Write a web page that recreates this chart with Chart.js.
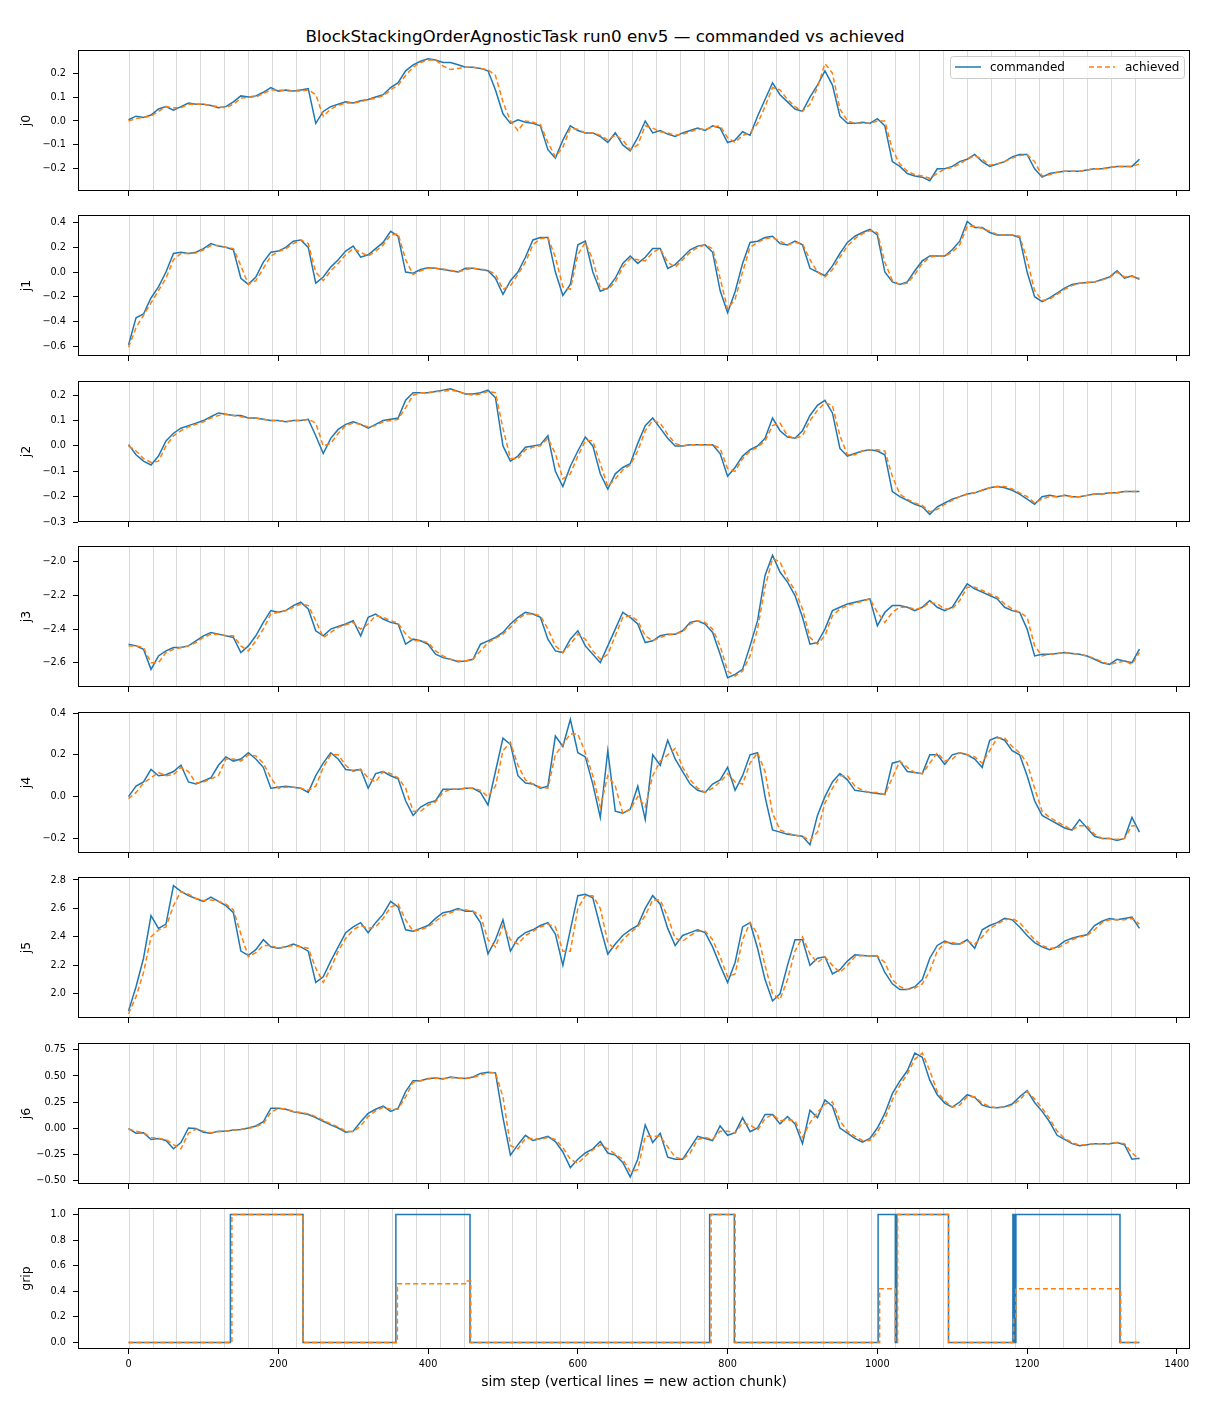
<!DOCTYPE html>
<html>
<head>
<meta charset="utf-8">
<script src="https://cdn.jsdelivr.net/npm/chart.js@4.4.1/dist/chart.umd.min.js"></script>
<style>
  body { margin: 0; background: #fff; width: 1210px; height: 1408px; position: relative; font-family: "DejaVu Sans", sans-serif; }
  #title { position: absolute; top: 26px; left: 0; width: 1210px; text-align: center; font-size: 16.7px; color: #000; }
  .panel { position: absolute; left: 0; width: 1210px; }
</style>
</head>
<body>
<div id="title">BlockStackingOrderAgnosticTask run0 env5 — commanded vs achieved</div>
<div id="charts"></div>
<script>
// sim steps sampled every 10 steps (0..1350)
const steps = Array.from({ length: 136 }, (_, i) => i * 10);
// start of each new action chunk
const chunkStarts = [0, 32, 64, 96, 128, 160, 192, 224, 256, 288, 320, 352, 384, 416, 448, 480, 512, 544, 576, 608,
  640, 672, 704, 736, 768, 800, 832, 864, 896, 928, 960, 992, 1024, 1056, 1088, 1120, 1152, 1184, 1216, 1248,
  1280, 1312, 1344];
const xTicks = [0, 200, 400, 600, 800, 1000, 1200, 1400];

const j0Cmd = [
  0.005, 0.02, 0.015, 0.025, 0.05, 0.06, 0.045, 0.06, 0.075, 0.07,
  0.07, 0.065, 0.055, 0.06, 0.08, 0.105, 0.10, 0.105, 0.12, 0.14,
  0.125, 0.13, 0.125, 0.13, 0.135, -0.01, 0.04, 0.06, 0.07, 0.08,
  0.075, 0.085, 0.09, 0.10, 0.11, 0.14, 0.16, 0.21, 0.235, 0.25,
  0.26, 0.255, 0.245, 0.245, 0.235, 0.225, 0.225, 0.22, 0.21, 0.13,
  0.03, -0.01, 0.005, -0.005, -0.01, -0.02, -0.12, -0.155, -0.08, -0.02,
  -0.04, -0.05, -0.05, -0.065, -0.09, -0.05, -0.1, -0.125, -0.07, 0.0,
  -0.05, -0.04, -0.055, -0.065, -0.05, -0.04, -0.03, -0.04, -0.02, -0.03,
  -0.09, -0.08, -0.045, -0.06, 0.02, 0.09, 0.16, 0.11, 0.08, 0.05,
  0.04, 0.1, 0.15, 0.21, 0.15, 0.02, -0.01, -0.01, -0.005, -0.01,
  0.01, -0.02, -0.17, -0.19, -0.22, -0.23, -0.235, -0.25, -0.2, -0.2,
  -0.19, -0.17, -0.16, -0.14, -0.17, -0.19, -0.18, -0.17, -0.15, -0.14,
  -0.14, -0.2, -0.235, -0.22, -0.215, -0.21, -0.21, -0.21, -0.205, -0.2,
  -0.2, -0.195, -0.19, -0.19, -0.19, -0.16
];
const j0Ach = [
  0.0, 0.01, 0.015, 0.02, 0.04, 0.06, 0.055, 0.055, 0.07, 0.07,
  0.07, 0.065, 0.06, 0.055, 0.07, 0.095, 0.10, 0.10, 0.115, 0.13,
  0.13, 0.125, 0.125, 0.125, 0.13, 0.11, 0.02, 0.05, 0.065, 0.075,
  0.075, 0.08, 0.09, 0.095, 0.105, 0.13, 0.15, 0.19, 0.225, 0.245,
  0.255, 0.255, 0.23, 0.215, 0.22, 0.225, 0.225, 0.22, 0.215, 0.19,
  0.08, 0.0, -0.04, 0.0, -0.005, -0.015, -0.09, -0.15, -0.11, -0.03,
  -0.035, -0.05, -0.05, -0.06, -0.08, -0.06, -0.08, -0.12, -0.1, -0.02,
  -0.03, -0.045, -0.05, -0.06, -0.055, -0.045, -0.035, -0.035, -0.025, -0.02,
  -0.07, -0.09, -0.06, -0.05, -0.01, 0.06, 0.14, 0.13, 0.09, 0.06,
  0.04, 0.07, 0.14, 0.24, 0.2, 0.05, 0.0, -0.01, -0.01, -0.01,
  0.0, 0.0, -0.12, -0.18, -0.21, -0.225, -0.23, -0.24, -0.22, -0.2,
  -0.195, -0.18, -0.16, -0.145, -0.16, -0.185, -0.18, -0.17, -0.155, -0.145,
  -0.14, -0.17, -0.23, -0.225, -0.215, -0.21, -0.21, -0.21, -0.205, -0.2,
  -0.2, -0.195, -0.19, -0.19, -0.19, -0.18
];

const j1Cmd = [
  -0.59, -0.37, -0.34, -0.21, -0.12, 0.0, 0.15, 0.16, 0.15, 0.16,
  0.19, 0.23, 0.21, 0.2, 0.18, -0.05, -0.1, -0.04, 0.08, 0.16,
  0.17, 0.2, 0.25, 0.26, 0.2, -0.09, -0.04, 0.04, 0.1, 0.17,
  0.21, 0.12, 0.14, 0.19, 0.24, 0.33, 0.29, 0.0, -0.01, 0.02,
  0.035, 0.03, 0.02, 0.01, 0.0, 0.03, 0.03, 0.02, 0.01, -0.05,
  -0.18, -0.07, 0.0, 0.12, 0.26, 0.28, 0.28, 0.0, -0.19, -0.1,
  0.22, 0.25, 0.0, -0.155, -0.13, -0.05, 0.07, 0.13, 0.07, 0.12,
  0.19, 0.19, 0.03, 0.06, 0.12, 0.18, 0.21, 0.22, 0.16, -0.15,
  -0.33, -0.16, 0.07, 0.24, 0.25, 0.28, 0.29, 0.23, 0.22, 0.25,
  0.22, 0.03, 0.0, -0.03, 0.05, 0.15, 0.24, 0.29, 0.32, 0.345,
  0.3, 0.0, -0.08, -0.1, -0.08, 0.01, 0.09, 0.13, 0.13, 0.13,
  0.18, 0.25, 0.41, 0.36, 0.36, 0.32, 0.3, 0.3, 0.3, 0.28,
  0.0, -0.2, -0.24, -0.21, -0.17, -0.13, -0.1, -0.09, -0.085, -0.08,
  -0.06, -0.04, 0.01, -0.05, -0.03, -0.06
];
const j1Ach = [
  -0.61, -0.45, -0.35, -0.25, -0.15, -0.05, 0.1, 0.15, 0.15, 0.155,
  0.18, 0.215, 0.215, 0.2, 0.19, 0.05, -0.1, -0.07, 0.03, 0.13,
  0.165, 0.19, 0.23, 0.26, 0.23, 0.0, -0.07, 0.01, 0.07, 0.14,
  0.19, 0.16, 0.13, 0.17, 0.22, 0.3, 0.31, 0.1, -0.02, 0.01,
  0.03, 0.03, 0.025, 0.015, 0.0, 0.02, 0.03, 0.025, 0.015, -0.02,
  -0.14, -0.11, -0.02, 0.08, 0.22, 0.27, 0.28, 0.12, -0.12, -0.14,
  0.14, 0.24, 0.1, -0.13, -0.14, -0.08, 0.04, 0.11, 0.1, 0.09,
  0.16, 0.19, 0.08, 0.04, 0.1, 0.16, 0.2, 0.22, 0.19, -0.05,
  -0.3, -0.22, 0.0, 0.2, 0.24, 0.27, 0.28, 0.25, 0.22, 0.24,
  0.23, 0.1, 0.0, -0.04, 0.02, 0.12, 0.21, 0.27, 0.31, 0.335,
  0.32, 0.08, -0.07, -0.1, -0.09, -0.02, 0.07, 0.12, 0.13, 0.13,
  0.16, 0.22, 0.37, 0.37, 0.355, 0.33, 0.305, 0.3, 0.3, 0.29,
  0.1, -0.15, -0.23, -0.22, -0.18, -0.14, -0.11, -0.09, -0.085, -0.08,
  -0.065, -0.045, 0.0, -0.04, -0.035, -0.05
];

const j2Cmd = [
  0.005, -0.035, -0.06, -0.075, -0.04, 0.02, 0.05, 0.07, 0.08, 0.09,
  0.1, 0.115, 0.13, 0.125, 0.12, 0.12, 0.11, 0.11, 0.105, 0.1,
  0.1, 0.095, 0.1, 0.1, 0.105, 0.04, -0.03, 0.03, 0.065, 0.085,
  0.095, 0.085, 0.07, 0.085, 0.1, 0.105, 0.11, 0.18, 0.21, 0.21,
  0.21, 0.215, 0.22, 0.225, 0.215, 0.205, 0.205, 0.21, 0.22, 0.19,
  0.0, -0.06, -0.04, -0.005, 0.0, 0.005, 0.04, -0.1, -0.16, -0.08,
  -0.02, 0.035, 0.0, -0.11, -0.17, -0.11, -0.085, -0.07, 0.01, 0.08,
  0.11, 0.07, 0.03, 0.0, 0.0, 0.005, 0.005, 0.005, 0.005, -0.03,
  -0.12, -0.085, -0.04, -0.015, 0.0, 0.03, 0.11, 0.06, 0.035, 0.03,
  0.06, 0.12, 0.16, 0.18, 0.13, -0.01, -0.04, -0.03, -0.02, -0.015,
  -0.02, -0.035, -0.18, -0.2, -0.215, -0.23, -0.24, -0.27, -0.24, -0.225,
  -0.21, -0.2, -0.19, -0.185, -0.175, -0.165, -0.16, -0.165, -0.175, -0.19,
  -0.21, -0.23, -0.2, -0.195, -0.2, -0.195, -0.2, -0.2, -0.195, -0.19,
  -0.19, -0.185, -0.185, -0.18, -0.18, -0.18
];
const j2Ach = [
  0.0, -0.02, -0.05, -0.065, -0.06, 0.0, 0.04, 0.06, 0.075, 0.085,
  0.095, 0.11, 0.12, 0.125, 0.12, 0.115, 0.11, 0.11, 0.105, 0.1,
  0.1, 0.095, 0.1, 0.1, 0.105, 0.09, 0.0, 0.01, 0.05, 0.08,
  0.09, 0.085, 0.075, 0.08, 0.095, 0.1, 0.105, 0.15, 0.2, 0.21,
  0.21, 0.215, 0.215, 0.22, 0.215, 0.205, 0.2, 0.205, 0.215, 0.21,
  0.07, -0.05, -0.05, -0.015, -0.005, 0.0, 0.03, -0.03, -0.13, -0.11,
  -0.04, 0.02, 0.02, -0.07, -0.16, -0.13, -0.095, -0.075, -0.02, 0.06,
  0.1, 0.09, 0.045, 0.01, 0.0, 0.005, 0.005, 0.005, 0.005, -0.01,
  -0.09, -0.1, -0.05, -0.02, -0.005, 0.02, 0.08, 0.09, 0.04, 0.03,
  0.04, 0.1, 0.14, 0.17, 0.16, 0.04, -0.035, -0.035, -0.02, -0.015,
  -0.015, -0.02, -0.12, -0.19, -0.21, -0.225, -0.235, -0.26, -0.25, -0.23,
  -0.215, -0.2, -0.19, -0.185, -0.175, -0.165, -0.16, -0.16, -0.17, -0.185,
  -0.2, -0.225, -0.21, -0.2, -0.2, -0.195, -0.2, -0.2, -0.195, -0.19,
  -0.19, -0.185, -0.185, -0.18, -0.18, -0.18
];

const j3Cmd = [
  -2.49, -2.5, -2.52, -2.64, -2.56, -2.53, -2.51, -2.51, -2.5, -2.47,
  -2.44, -2.42, -2.43, -2.44, -2.45, -2.54, -2.5, -2.44, -2.36, -2.29,
  -2.3, -2.29, -2.26, -2.24, -2.28, -2.41, -2.44, -2.4, -2.385, -2.37,
  -2.35, -2.44, -2.33, -2.31, -2.34, -2.36, -2.37, -2.49, -2.46, -2.47,
  -2.49, -2.55, -2.57, -2.58, -2.595, -2.59, -2.58, -2.49, -2.47, -2.45,
  -2.42, -2.37, -2.33, -2.3, -2.31, -2.33, -2.46, -2.53, -2.54, -2.46,
  -2.41, -2.5, -2.55, -2.6, -2.5, -2.4, -2.3, -2.33, -2.37, -2.48,
  -2.47, -2.44, -2.43, -2.43, -2.41, -2.36, -2.35, -2.37, -2.42, -2.55,
  -2.69, -2.67, -2.64, -2.5, -2.35, -2.08, -1.96, -2.06, -2.12, -2.2,
  -2.33, -2.49, -2.48, -2.4, -2.29, -2.27, -2.25, -2.24, -2.23, -2.22,
  -2.38, -2.3, -2.26, -2.26, -2.27, -2.29, -2.27, -2.23, -2.27, -2.29,
  -2.27, -2.2, -2.13, -2.16, -2.18, -2.2, -2.22, -2.27, -2.29, -2.3,
  -2.4, -2.56, -2.55, -2.55, -2.545, -2.54, -2.545, -2.55, -2.56, -2.58,
  -2.6, -2.61, -2.58, -2.59, -2.6, -2.52
];
const j3Ach = [
  -2.5, -2.5, -2.51, -2.6, -2.6, -2.54, -2.52, -2.51, -2.5, -2.48,
  -2.45, -2.43, -2.43, -2.44, -2.44, -2.5, -2.53, -2.47, -2.4, -2.31,
  -2.3, -2.29, -2.27, -2.25, -2.26, -2.35, -2.45, -2.42, -2.39, -2.375,
  -2.36, -2.4, -2.37, -2.32, -2.33, -2.35, -2.365, -2.43, -2.47, -2.47,
  -2.48, -2.53, -2.56, -2.58, -2.59, -2.59, -2.58, -2.53, -2.48, -2.455,
  -2.43, -2.39, -2.34, -2.31, -2.31, -2.32, -2.4, -2.5, -2.54, -2.49,
  -2.43, -2.46, -2.53, -2.58, -2.55, -2.44, -2.33, -2.32, -2.35, -2.44,
  -2.47, -2.45, -2.435, -2.43, -2.415, -2.37, -2.35, -2.36, -2.4, -2.5,
  -2.65, -2.68, -2.65, -2.56, -2.4, -2.15, -1.98, -2.0, -2.1, -2.17,
  -2.28, -2.45, -2.49, -2.44, -2.32, -2.28, -2.26, -2.245, -2.235, -2.22,
  -2.3, -2.36, -2.3, -2.27, -2.27, -2.28, -2.275, -2.24, -2.25, -2.28,
  -2.28, -2.23, -2.15, -2.15, -2.17, -2.19, -2.21, -2.25, -2.28, -2.3,
  -2.33, -2.5, -2.56, -2.55, -2.545, -2.54, -2.545, -2.55, -2.56, -2.575,
  -2.595, -2.61, -2.6, -2.59, -2.61, -2.54
];

const j4Cmd = [
  0.0, 0.05, 0.07, 0.13, 0.1, 0.105, 0.12, 0.15, 0.07, 0.06,
  0.075, 0.09, 0.15, 0.19, 0.17, 0.18, 0.21, 0.18, 0.14, 0.04,
  0.045, 0.05, 0.045, 0.04, 0.02, 0.1, 0.16, 0.21, 0.18, 0.13,
  0.125, 0.13, 0.04, 0.11, 0.12, 0.1, 0.085, -0.02, -0.09, -0.05,
  -0.03, -0.02, 0.035, 0.035, 0.035, 0.04, 0.04, 0.02, -0.04, 0.12,
  0.28, 0.25, 0.1, 0.065, 0.06, 0.04, 0.05, 0.29, 0.24, 0.37,
  0.21, 0.19, 0.06, -0.1, 0.22, -0.07, -0.08, -0.06, 0.05, -0.11,
  0.2, 0.15, 0.27, 0.18, 0.12, 0.06, 0.03, 0.02, 0.06, 0.08,
  0.14, 0.03, 0.1, 0.2, 0.21, 0.0, -0.16, -0.17, -0.18, -0.185,
  -0.19, -0.23, -0.09, 0.0, 0.07, 0.11, 0.08, 0.03, 0.025, 0.02,
  0.015, 0.01, 0.16, 0.17, 0.12, 0.115, 0.11, 0.2, 0.2, 0.155,
  0.2, 0.21, 0.2, 0.18, 0.14, 0.27, 0.285, 0.27, 0.22, 0.2,
  0.1, -0.02, -0.09, -0.11, -0.13, -0.15, -0.16, -0.11, -0.15, -0.19,
  -0.2, -0.2, -0.21, -0.2, -0.1, -0.17
];
const j4Ach = [
  -0.01, 0.02, 0.065, 0.09, 0.115, 0.1, 0.105, 0.14, 0.12, 0.065,
  0.07, 0.085, 0.1, 0.18, 0.18, 0.17, 0.2, 0.195, 0.16, 0.09,
  0.04, 0.045, 0.045, 0.04, 0.03, 0.05, 0.14, 0.2, 0.2, 0.15,
  0.12, 0.13, 0.09, 0.07, 0.12, 0.11, 0.09, 0.04, -0.07, -0.07,
  -0.04, -0.025, 0.02, 0.035, 0.035, 0.04, 0.04, 0.03, 0.0, 0.05,
  0.22, 0.26, 0.15, 0.08, 0.06, 0.045, 0.04, 0.2, 0.25, 0.3,
  0.3, 0.21, 0.1, -0.05, 0.1, 0.05, -0.08, -0.06, 0.0, -0.05,
  0.1, 0.17, 0.2, 0.23, 0.14, 0.08, 0.04, 0.02, 0.04, 0.07,
  0.11, 0.07, 0.06, 0.16, 0.21, 0.12, -0.08, -0.16, -0.175, -0.185,
  -0.19, -0.21, -0.17, -0.03, 0.04, 0.1, 0.1, 0.05, 0.03, 0.02,
  0.02, 0.01, 0.09, 0.17, 0.14, 0.115, 0.11, 0.16, 0.21, 0.17,
  0.18, 0.21, 0.2, 0.19, 0.16, 0.22, 0.28, 0.28, 0.24, 0.21,
  0.16, 0.04, -0.07, -0.1, -0.12, -0.14, -0.16, -0.14, -0.14, -0.18,
  -0.2, -0.2, -0.205, -0.2, -0.14, -0.14
];

const j5Cmd = [
  1.88, 2.05, 2.25, 2.55, 2.46, 2.49, 2.76, 2.72, 2.69, 2.67,
  2.65, 2.68, 2.65, 2.62, 2.57, 2.3, 2.27, 2.31, 2.38, 2.33,
  2.32, 2.33, 2.35, 2.33, 2.3, 2.08, 2.12, 2.23, 2.33, 2.43,
  2.47, 2.5, 2.43, 2.5, 2.56, 2.65, 2.61, 2.45, 2.44, 2.46,
  2.48, 2.53, 2.57, 2.58, 2.6, 2.58, 2.58, 2.5, 2.28, 2.38,
  2.52, 2.3, 2.39, 2.43, 2.45, 2.48, 2.5, 2.42, 2.2, 2.45,
  2.69, 2.7, 2.675, 2.47, 2.28, 2.35, 2.41, 2.45, 2.48, 2.6,
  2.69, 2.63, 2.46, 2.34, 2.41, 2.43, 2.45, 2.43, 2.33, 2.2,
  2.08, 2.22, 2.47, 2.5, 2.32, 2.1, 1.95, 2.0, 2.2, 2.38,
  2.38, 2.2, 2.25, 2.26, 2.14, 2.17, 2.23, 2.275, 2.27, 2.265,
  2.265, 2.15, 2.07, 2.03, 2.03, 2.05, 2.1, 2.25, 2.34, 2.37,
  2.35, 2.35, 2.38, 2.32, 2.45, 2.48, 2.5, 2.53, 2.52, 2.47,
  2.41, 2.36, 2.33, 2.31, 2.33, 2.37, 2.39, 2.405, 2.415, 2.48,
  2.51, 2.53, 2.52, 2.53, 2.54, 2.46
];
const j5Ach = [
  1.86, 1.98, 2.15, 2.4, 2.45, 2.47, 2.62, 2.72, 2.7, 2.67,
  2.655, 2.66, 2.65, 2.63, 2.59, 2.42, 2.26, 2.29, 2.34, 2.34,
  2.32, 2.33, 2.34, 2.33, 2.32, 2.18, 2.08, 2.18, 2.3, 2.39,
  2.45, 2.48, 2.46, 2.47, 2.53, 2.61, 2.63, 2.52, 2.44, 2.45,
  2.47, 2.51, 2.55, 2.57, 2.59, 2.59, 2.58, 2.55, 2.38, 2.33,
  2.48, 2.38, 2.35, 2.41, 2.44, 2.47, 2.49, 2.47, 2.3, 2.3,
  2.6, 2.69, 2.69, 2.6, 2.36, 2.31, 2.38, 2.43, 2.47, 2.55,
  2.66, 2.66, 2.54, 2.39, 2.37, 2.41, 2.44, 2.44, 2.38, 2.26,
  2.12, 2.14, 2.38, 2.5, 2.42, 2.2, 2.0, 1.96, 2.1, 2.3,
  2.4, 2.28, 2.22, 2.26, 2.2, 2.15, 2.2, 2.26, 2.27, 2.265,
  2.265, 2.22, 2.1, 2.05, 2.03, 2.04, 2.07, 2.16, 2.3, 2.36,
  2.36, 2.35, 2.37, 2.35, 2.4, 2.46, 2.49, 2.52, 2.53, 2.5,
  2.44, 2.38, 2.34, 2.32, 2.32, 2.35, 2.38, 2.4, 2.41, 2.45,
  2.5, 2.52, 2.52, 2.52, 2.53, 2.49
];

const j6Cmd = [
  -0.005, -0.05, -0.045, -0.11, -0.1, -0.12, -0.2, -0.14, 0.0, -0.005,
  -0.04, -0.05, -0.03, -0.03, -0.02, -0.015, 0.0, 0.02, 0.06, 0.19,
  0.19, 0.18, 0.155, 0.145, 0.13, 0.1, 0.065, 0.03, 0.0, -0.04,
  -0.03, 0.06, 0.14, 0.18, 0.21, 0.16, 0.19, 0.35, 0.455, 0.455,
  0.475, 0.48, 0.47, 0.49, 0.48, 0.475, 0.49, 0.525, 0.535, 0.53,
  0.1, -0.26, -0.16, -0.07, -0.12, -0.1, -0.08, -0.13, -0.23, -0.38,
  -0.3, -0.24, -0.2, -0.13, -0.24, -0.26, -0.33, -0.47, -0.3, 0.03,
  -0.14, -0.05, -0.28, -0.3, -0.3, -0.19, -0.08, -0.1, -0.12, 0.02,
  -0.07, -0.045, 0.1, -0.035, 0.0, 0.13, 0.13, 0.04, 0.11, 0.04,
  -0.15, 0.17, 0.1, 0.27, 0.21, 0.0, -0.05, -0.1, -0.135, -0.1,
  0.0, 0.14, 0.33, 0.45, 0.55, 0.72, 0.68, 0.46, 0.32, 0.24,
  0.2, 0.25, 0.32, 0.295, 0.22, 0.2, 0.195, 0.205, 0.23, 0.3,
  0.36, 0.245, 0.16, 0.06, -0.07, -0.11, -0.15, -0.17, -0.16, -0.15,
  -0.15, -0.15, -0.14, -0.16, -0.3, -0.29
];
const j6Ach = [
  -0.01, -0.03, -0.045, -0.09, -0.1, -0.11, -0.16, -0.2, -0.05, -0.01,
  -0.03, -0.045, -0.035, -0.03, -0.02, -0.015, -0.005, 0.015, 0.04, 0.15,
  0.19, 0.185, 0.16, 0.15, 0.135, 0.11, 0.075, 0.04, 0.01, -0.03,
  -0.035, 0.02, 0.11, 0.165, 0.2, 0.18, 0.18, 0.3, 0.44, 0.455,
  0.47, 0.48, 0.475, 0.485, 0.48, 0.475, 0.485, 0.51, 0.53, 0.53,
  0.3, -0.17, -0.2, -0.1, -0.1, -0.11, -0.09, -0.11, -0.19, -0.3,
  -0.34, -0.27, -0.21, -0.16, -0.2, -0.25, -0.3, -0.42, -0.4, -0.08,
  -0.08, -0.08, -0.18, -0.28, -0.3, -0.24, -0.11, -0.09, -0.11, -0.03,
  -0.03, -0.05, 0.05, 0.03, -0.02, 0.09, 0.13, 0.07, 0.08, 0.07,
  -0.09, 0.05, 0.15, 0.23, 0.25, 0.07, -0.03, -0.08, -0.12, -0.12,
  -0.04, 0.09, 0.27, 0.41, 0.52, 0.66, 0.72, 0.55, 0.35, 0.26,
  0.2, 0.22, 0.3, 0.3, 0.24, 0.205, 0.195, 0.2, 0.22, 0.27,
  0.35, 0.28, 0.19, 0.09, -0.03, -0.1, -0.14, -0.165, -0.16, -0.15,
  -0.15, -0.15, -0.14, -0.15, -0.24, -0.3
];

// gripper: step where the value changes, and the value from that step on
const gripCmdX = [0, 136, 233, 357, 456, 776, 809, 1001, 1024, 1026, 1095, 1181, 1183, 1185, 1324, 1350];
const gripCmdY = [0, 1, 0, 1, 0, 1, 0, 1, 0, 1, 0, 1, 0, 1, 0, 0];
const gripAchX = [0, 138, 233, 359, 451, 457, 778, 810, 1003, 1024, 1027, 1095, 1182, 1185, 1325, 1350];
const gripAchY = [0, 1, 0, 0.46, 0.48, 0, 1, 0, 0.42, 0, 1, 0, 0.2, 0.42, 0, 0];

const j0Ticks = [-0.2, -0.1, 0, 0.1, 0.2];
const j1Ticks = [-0.6, -0.4, -0.2, 0, 0.2, 0.4];
const j2Ticks = [-0.3, -0.2, -0.1, 0, 0.1, 0.2];
const j3Ticks = [-2.6, -2.4, -2.2, -2.0];
const j4Ticks = [-0.2, 0, 0.2, 0.4];
const j5Ticks = [2.0, 2.2, 2.4, 2.6, 2.8];
const j6Ticks = [-0.5, -0.25, 0, 0.25, 0.5, 0.75];
const gripTicks = [0, 0.2, 0.4, 0.6, 0.8, 1.0];

const BLUE = '#1f77b4';
const ORANGE = '#ff7f0e';
const FONT = 'DejaVu Sans';
Chart.defaults.font.family = FONT;
Chart.defaults.color = '#000';

const toXY = (xs, ys) => xs.map((x, i) => ({ x: x, y: ys[i] }));

const panels = [
  { name: 'j0', cmd: toXY(steps, j0Cmd), ach: toXY(steps, j0Ach), min: -0.293, max: 0.297, ticks: j0Ticks, dec: 1 },
  { name: 'j1', cmd: toXY(steps, j1Cmd), ach: toXY(steps, j1Ach), min: -0.68, max: 0.462, ticks: j1Ticks, dec: 1 },
  { name: 'j2', cmd: toXY(steps, j2Cmd), ach: toXY(steps, j2Ach), min: -0.3, max: 0.256, ticks: j2Ticks, dec: 1 },
  { name: 'j3', cmd: toXY(steps, j3Cmd), ach: toXY(steps, j3Ach), min: -2.745, max: -1.905, ticks: j3Ticks, dec: 1 },
  { name: 'j4', cmd: toXY(steps, j4Cmd), ach: toXY(steps, j4Ach), min: -0.27, max: 0.405, ticks: j4Ticks, dec: 1 },
  { name: 'j5', cmd: toXY(steps, j5Cmd), ach: toXY(steps, j5Ach), min: 1.83, max: 2.821, ticks: j5Ticks, dec: 1 },
  { name: 'j6', cmd: toXY(steps, j6Cmd), ach: toXY(steps, j6Ach), min: -0.538, max: 0.817, ticks: j6Ticks, dec: 2 },
  { name: 'grip', cmd: toXY(gripCmdX, gripCmdY), ach: toXY(gripAchX, gripAchY), min: -0.05, max: 1.05, ticks: gripTicks, dec: 1, stepped: true }
];

const panelTops = [50, 215, 381, 546, 712, 877, 1043, 1208];
const PANEL_H = 141;
const PAD_TOP = 8;

const fmt = (v, dec) => v.toFixed(dec).replace('-', '\u2212');

// light vertical lines at the start of every action chunk
const chunkLines = {
  id: 'chunkLines',
  beforeDatasetsDraw(chart) {
    const { ctx, chartArea: a, scales: { x } } = chart;
    ctx.save();
    ctx.strokeStyle = 'rgba(128,128,128,0.3)';
    ctx.lineWidth = 1;
    chunkStarts.forEach(s => {
      const px = Math.round(x.getPixelForValue(s)) + 0.5;
      ctx.beginPath();
      ctx.moveTo(px, a.top);
      ctx.lineTo(px, a.bottom);
      ctx.stroke();
    });
    ctx.restore();
  }
};

// black box round the plot area
const frame = {
  id: 'frame',
  afterDatasetsDraw(chart) {
    const { ctx, chartArea: a } = chart;
    ctx.save();
    ctx.strokeStyle = '#000';
    ctx.lineWidth = 1;
    ctx.strokeRect(a.left + 0.5, a.top + 0.5, a.width - 1, a.height - 1);
    ctx.restore();
  }
};

// matplotlib-style legend inside the top-right corner
const innerLegend = {
  id: 'innerLegend',
  afterDraw(chart) {
    const { ctx, chartArea: a } = chart;
    const ds = chart.data.datasets;
    const w = 234, h = 22;
    const x0 = a.right - 6 - w, y0 = a.top + 6;
    const mid = y0 + h / 2;
    ctx.save();
    ctx.beginPath();
    ctx.roundRect(x0 + 0.5, y0 + 0.5, w, h, 3);
    ctx.fillStyle = 'rgba(255,255,255,0.8)';
    ctx.fill();
    ctx.strokeStyle = '#cccccc';
    ctx.lineWidth = 1;
    ctx.stroke();
    ctx.font = '12px "' + FONT + '"';
    ctx.textBaseline = 'middle';
    ctx.fillStyle = '#000';
    const items = [[ds[0], x0 + 5, x0 + 40], [ds[1], x0 + 139, x0 + 175]];
    items.forEach(([d, sx, tx]) => {
      ctx.beginPath();
      ctx.strokeStyle = d.borderColor;
      ctx.lineWidth = d.borderWidth;
      ctx.setLineDash(d.borderDash || []);
      ctx.moveTo(sx, mid);
      ctx.lineTo(sx + 26, mid);
      ctx.stroke();
      ctx.setLineDash([]);
      ctx.fillText(d.label, tx, mid + 0.5);
    });
    ctx.restore();
  }
};

const holder = document.getElementById('charts');
panels.forEach((p, i) => {
  const isLast = i === panels.length - 1;
  const xh = isLast ? 50 : 12;
  const div = document.createElement('div');
  div.className = 'panel';
  div.style.top = (panelTops[i] - PAD_TOP) + 'px';
  div.style.height = (PANEL_H + PAD_TOP + xh) + 'px';
  const cv = document.createElement('canvas');
  div.appendChild(cv);
  holder.appendChild(div);

  const plugins = [chunkLines, frame];
  if (i === 0) plugins.push(innerLegend);

  new Chart(cv.getContext('2d'), {
    type: 'line',
    data: {
      datasets: [
        { label: 'commanded', data: p.cmd, borderColor: BLUE, borderWidth: 1.5, pointRadius: 0,
          tension: 0, stepped: !!p.stepped, order: 2 },
        { label: 'achieved', data: p.ach, borderColor: ORANGE, borderWidth: 1.5, borderDash: [5, 3], pointRadius: 0,
          tension: 0, stepped: !!p.stepped, order: 1 }
      ]
    },
    options: {
      animation: false,
      responsive: true,
      maintainAspectRatio: false,
      layout: { padding: { top: PAD_TOP, right: 20, left: 0, bottom: 0 } },
      plugins: { legend: { display: false }, tooltip: { enabled: false } },
      scales: {
        x: {
          type: 'linear',
          min: -67.5,
          max: 1417.5,
          afterBuildTicks: s => { s.ticks = xTicks.map(v => ({ value: v })); },
          afterFit: s => { s.height = xh; s.paddingLeft = 0; s.paddingRight = 0; },
          border: { display: false },
          grid: { drawOnChartArea: false, drawTicks: true, tickLength: 5, color: '#000', lineWidth: 1 },
          ticks: { display: isLast, autoSkip: false, maxRotation: 0, padding: 5, color: '#000',
                   font: { size: 9.7 }, callback: v => String(v) },
          title: { display: isLast, text: 'sim step (vertical lines = new action chunk)', color: '#000',
                   font: { size: 13.9 }, padding: { top: 0, bottom: 8.5 } }
        },
        y: {
          min: p.min,
          max: p.max,
          afterBuildTicks: s => { s.ticks = p.ticks.map(v => ({ value: v })); },
          afterFit: s => { s.width = 78; s.paddingTop = 0; s.paddingBottom = 0; },
          border: { display: false },
          grid: { drawOnChartArea: false, drawTicks: true, tickLength: 5, color: '#000', lineWidth: 1 },
          ticks: { padding: 7, color: '#000', font: { size: 9.7 }, callback: v => fmt(v, p.dec) },
          title: { display: true, text: p.name, color: '#000', font: { size: 12.5 }, padding: { top: 19.5, bottom: 0 } }
        }
      }
    },
    plugins: plugins
  });
});
</script>
</body>
</html>
